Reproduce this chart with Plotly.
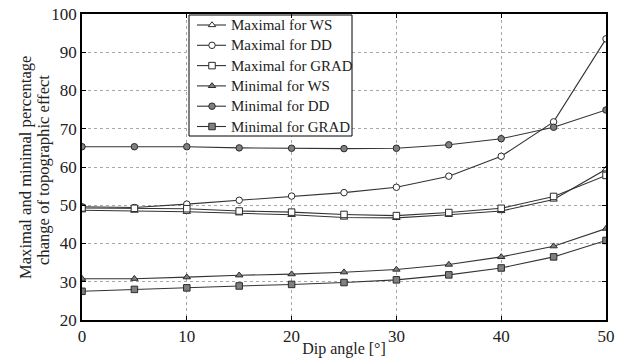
import plotly.graph_objects as go

dip_angle = [0, 5, 10, 15, 20, 25, 30, 35, 40, 45, 50]

max_ws = [48.7, 48.6, 48.3, 47.9, 47.5, 46.8, 46.7, 47.5, 48.5, 51.5, 59.4]
max_dd = [49.6, 49.4, 50.3, 51.3, 52.4, 53.3, 54.7, 57.6, 62.8, 71.8, 93.5]
max_grad = [49.3, 49.2, 49.1, 48.5, 48.2, 47.6, 47.3, 48.1, 49.2, 52.3, 57.8]
min_ws = [30.8, 30.8, 31.2, 31.7, 32.0, 32.5, 33.2, 34.5, 36.5, 39.3, 43.9]
min_dd = [65.3, 65.3, 65.3, 65.0, 64.9, 64.8, 64.9, 65.8, 67.4, 70.4, 74.9]
min_grad = [27.5, 28.0, 28.4, 28.9, 29.3, 29.8, 30.5, 31.8, 33.6, 36.5, 40.8]

series_names = ["Maximal for WS", "Maximal for DD", "Maximal for GRAD",
                "Minimal for WS", "Minimal for DD", "Minimal for GRAD"]
series_values = [max_ws, max_dd, max_grad, min_ws, min_dd, min_grad]
series_symbols = ["triangle-up", "circle", "square", "triangle-up", "circle", "square"]
series_filled = [False, False, False, True, True, True]

W, H = 627, 358
M_L, M_R, M_T, M_B = 82, 21, 14, 38
PW, PH = W - M_L - M_R, H - M_T - M_B

font_family = "Liberation Serif, Times New Roman, serif"
line_color = "#333333"
text_color = "#222222"


def marker_style(sym, filled):
    return dict(symbol=sym, size=6.5,
                color="#808080" if filled else "white",
                line=dict(color="#2a2a2a", width=1))


def px_x(px):
    """Pixel column -> fraction of the plot width."""
    return (px - M_L) / PW


def px_y(py):
    """Pixel row -> fraction of the plot height (measured from the bottom)."""
    return (H - M_B - py) / PH


fig = go.Figure()
for name, vals, sym, filled in zip(series_names, series_values, series_symbols, series_filled):
    fig.add_trace(go.Scatter(
        x=dip_angle, y=vals, name=name, mode="lines+markers",
        line=dict(color=line_color, width=1.1),
        marker=marker_style(sym, filled),
        showlegend=False,
    ))

# Legend box and keys on an overlay axis pair spanning [0, 1] x [0, 1]
row_h = 20.3
first_row = 25
key_x0, key_x1, key_mid, text_x = 197, 226, 212, 229
bx0, bx1, by0, by1 = px_x(189), px_x(352), px_y(136), px_y(15)

fig.add_trace(go.Scatter(
    x=[bx0, bx1, bx1, bx0, bx0], y=[by0, by0, by1, by1, by0],
    mode="lines", fill="toself", fillcolor="white",
    line=dict(color="black", width=1), xaxis="x2", yaxis="y2",
    showlegend=False, hoverinfo="skip"))

annotations = []
for i, (name, sym, filled) in enumerate(zip(series_names, series_symbols, series_filled)):
    ry = px_y(first_row + i * row_h)
    fig.add_trace(go.Scatter(
        x=[px_x(key_x0), px_x(key_x1)], y=[ry, ry], mode="lines",
        xaxis="x2", yaxis="y2", line=dict(color=line_color, width=1.1),
        showlegend=False, hoverinfo="skip"))
    fig.add_trace(go.Scatter(
        x=[px_x(key_mid)], y=[ry], mode="markers", xaxis="x2", yaxis="y2",
        marker=marker_style(sym, filled), showlegend=False, hoverinfo="skip"))
    annotations.append(dict(
        xref="paper", yref="paper", x=px_x(text_x), y=ry, text=name,
        showarrow=False, xanchor="left", yanchor="middle",
        font=dict(family=font_family, size=15, color=text_color)))

# Two-line y-axis title, each line placed separately for tighter line spacing
annotations.append(dict(
    xref="paper", yref="paper", x=px_x(25), y=px_y(168),
    text="Maximal and minimal percentage", textangle=-90, showarrow=False,
    xanchor="center", yanchor="middle",
    font=dict(family=font_family, size=16.6, color=text_color)))
annotations.append(dict(
    xref="paper", yref="paper", x=px_x(43), y=px_y(170),
    text="change of topographic effect", textangle=-90, showarrow=False,
    xanchor="center", yanchor="middle",
    font=dict(family=font_family, size=16.6, color=text_color)))

axis_common = dict(
    showline=True, linecolor="black", linewidth=1.6, mirror="allticks",
    ticks="inside", ticklen=4, tickcolor="black",
    showgrid=True, gridcolor="#a8a8a8", griddash="dot", gridwidth=1,
    zeroline=False,
    tickfont=dict(family=font_family, size=17, color=text_color),
)

fig.update_layout(
    width=W, height=H,
    margin=dict(l=M_L, r=M_R, t=M_T, b=M_B, autoexpand=False),
    paper_bgcolor="white", plot_bgcolor="white",
    font=dict(family=font_family, color=text_color),
    showlegend=False,
    xaxis=dict(range=[0, 50], dtick=10,
               title=dict(text="Dip angle [°]", standoff=0,
                          font=dict(family=font_family, size=16, color=text_color)),
               **axis_common),
    yaxis=dict(range=[20, 100], dtick=10, **axis_common),
    xaxis2=dict(overlaying="x", range=[0, 1], visible=False, fixedrange=True),
    yaxis2=dict(overlaying="y", range=[0, 1], visible=False, fixedrange=True),
    annotations=annotations,
)

fig.write_html("out.html")
